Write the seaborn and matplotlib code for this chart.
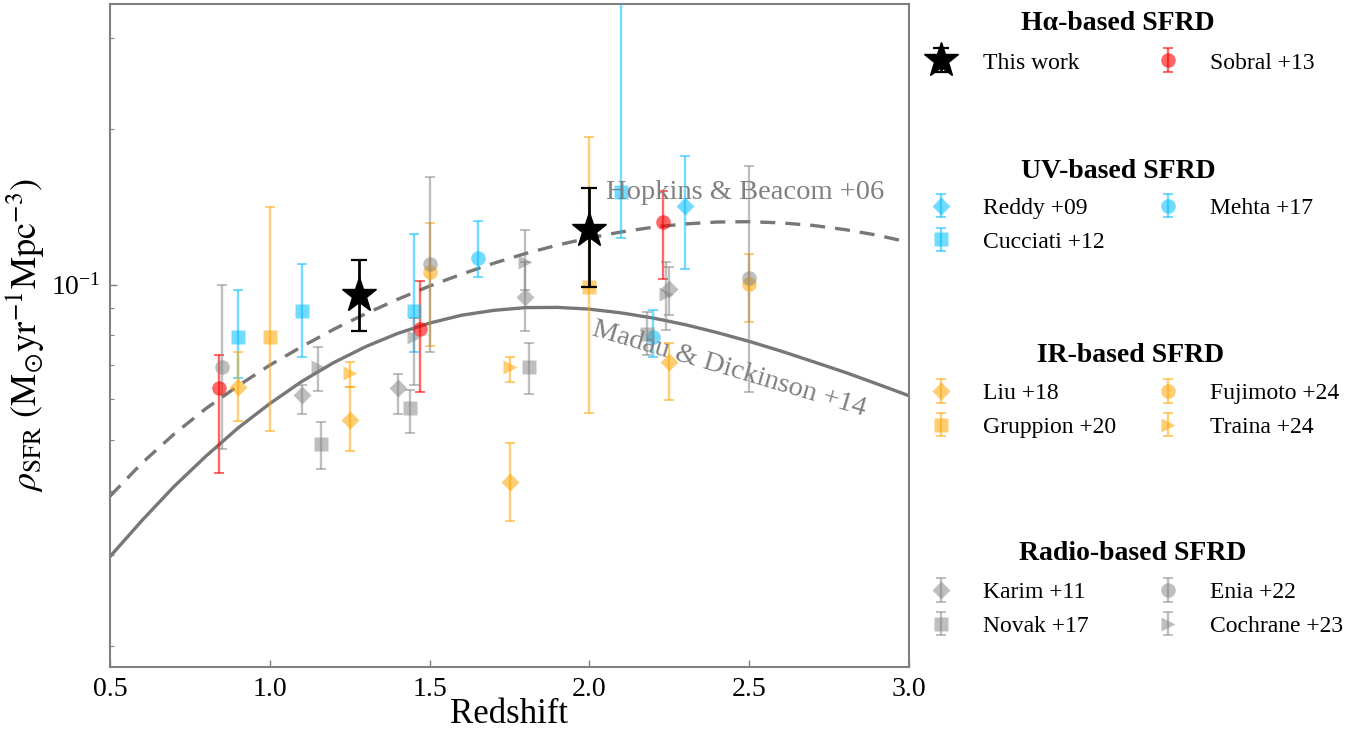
import numpy as np
import matplotlib
matplotlib.use("Agg")
import matplotlib.pyplot as plt
import seaborn as sns
from matplotlib.ticker import LogLocator, NullFormatter, FixedLocator, FormatStrFormatter

sns.set_theme(style="ticks")
plt.rcParams['font.family'] = ['Liberation Serif', 'DejaVu Serif']
plt.rcParams['mathtext.fontset'] = 'stix'
plt.rcParams['text.color'] = 'black'
plt.rcParams['axes.labelcolor'] = 'black'

# ---------------- data ----------------
model_z = [0.5, 0.6, 0.7, 0.8, 0.9, 1.0, 1.1, 1.2, 1.3, 1.4, 1.5, 1.6, 1.7,
           1.8, 1.9, 2.0, 2.1, 2.2, 2.3, 2.4, 2.5, 2.6, 2.7, 2.8, 2.9, 3.0]
md14 = [0.0298, 0.0350, 0.0407, 0.0466, 0.0528, 0.0589, 0.0650, 0.0707, 0.0759,
        0.0805, 0.0843, 0.0873, 0.0892, 0.0903, 0.0904, 0.0897, 0.0882, 0.0862,
        0.0837, 0.0808, 0.0777, 0.0744, 0.0710, 0.0677, 0.0643, 0.0610]
hb06 = [0.0390, 0.0452, 0.0514, 0.0576, 0.0637, 0.0699, 0.0759, 0.0820, 0.0879,
        0.0937, 0.0994, 0.1048, 0.1100, 0.1149, 0.1193, 0.1232, 0.1265, 0.1292,
        0.1311, 0.1322, 0.1324, 0.1317, 0.1302, 0.1278, 0.1247, 0.1208]

thiswork_z = [1.28, 2.00]
thiswork_y = [0.0956, 0.1276]
thiswork_lo = [0.0812, 0.0990]
thiswork_hi = [0.1117, 0.1537]

sobral_z = [0.84, 1.47, 2.23]
sobral_y = [0.0632, 0.0820, 0.1321]
sobral_lo = [0.0433, 0.0621, 0.1025]
sobral_hi = [0.0730, 0.1018, 0.1519]

reddy_z = [2.30]
reddy_y = [0.1420]
reddy_lo = [0.1074]
reddy_hi = [0.1777]

cucciati_z = [0.90, 1.10, 1.45, 2.10]
cucciati_y = [0.0794, 0.0891, 0.0891, 0.1510]
cucciati_lo = [0.0661, 0.0726, 0.0742, 0.1230]
cucciati_hi = [0.0975, 0.1095, 0.1254, 0.4500]

mehta_z = [1.65, 2.20]
mehta_y = [0.1125, 0.0794]
mehta_lo = [0.1034, 0.0726]
mehta_hi = [0.1330, 0.0894]

liu_z = [0.90, 1.25, 1.75, 2.25]
liu_y = [0.0634, 0.0548, 0.0416, 0.0710]
liu_lo = [0.0544, 0.0476, 0.0350, 0.0599]
liu_hi = [0.0740, 0.0634, 0.0495, 0.0773]

gruppion_z = [1.00, 2.00]
gruppion_y = [0.0794, 0.0992]
gruppion_lo = [0.0521, 0.0566]
gruppion_hi = [0.1416, 0.1934]

fujimoto_z = [1.50, 2.50]
fujimoto_y = [0.1060, 0.1004]
fujimoto_lo = [0.0761, 0.0848]
fujimoto_hi = [0.1318, 0.1146]

traina_z = [1.25, 1.75]
traina_y = [0.0676, 0.0694]
traina_lo = [0.0634, 0.0648]
traina_hi = [0.0708, 0.0726]

karim_z = [1.10, 1.40, 1.80, 2.25]
karim_y = [0.0611, 0.0632, 0.0948, 0.0980]
karim_lo = [0.0562, 0.0562, 0.0812, 0.0874]
karim_hi = [0.0641, 0.0672, 0.1107, 0.1084]

novak_z = [1.16, 1.44, 1.81, 2.18]
novak_y = [0.0491, 0.0578, 0.0694, 0.0802]
novak_lo = [0.0440, 0.0516, 0.0615, 0.0731]
novak_hi = [0.0542, 0.0626, 0.0773, 0.0887]

enia_z = [0.85, 1.50, 2.50]
enia_y = [0.0694, 0.1099, 0.1029]
enia_lo = [0.0481, 0.0742, 0.0621]
enia_hi = [0.1000, 0.1618, 0.1697]

cochrane_z = [1.15, 1.45, 1.80, 2.24]
cochrane_y = [0.0694, 0.0793, 0.1108, 0.0961]
cochrane_lo = [0.0622, 0.0640, 0.0977, 0.0818]
cochrane_hi = [0.0759, 0.0863, 0.1276, 0.1107]

x_ticks = [0.5, 1.0, 1.5, 2.0, 2.5, 3.0]

# ---------------- figure ----------------
W, H = 1361, 730
fig = plt.figure(figsize=(W / 100, H / 100), dpi=100)
ax = fig.add_axes([110 / W, 1 - 667 / H, (909 - 110) / W, (667 - 4) / H])
ax.set_yscale('log')

curve_col = '#777777'
sns.lineplot(x=model_z, y=md14, ax=ax, color=curve_col, lw=2.4, zorder=2)
sns.lineplot(x=model_z, y=hb06, ax=ax, color=curve_col, lw=2.4, zorder=2,
             linestyle=(0, (4.5, 3)))


def eb(z, y, lo, hi, color, marker, ms=10.5, alpha=0.55, **kw):
    y = np.asarray(y)
    yerr = [y - np.asarray(lo), np.asarray(hi) - y]
    return ax.errorbar(z, y, yerr=yerr, fmt=marker, color=color, ms=ms,
                       mec='none', elinewidth=1.7, capsize=3.4, capthick=1.4,
                       alpha=alpha, zorder=3, **kw)


RED, BLUE, ORANGE, GRAY = 'red', 'deepskyblue', 'orange', 'gray'

h_sobral = eb(sobral_z, sobral_y, sobral_lo, sobral_hi, RED, 'o', alpha=0.6)
h_reddy = eb(reddy_z, reddy_y, reddy_lo, reddy_hi, BLUE, 'D', ms=9.5)
h_cucciati = eb(cucciati_z, cucciati_y, cucciati_lo, cucciati_hi, BLUE, 's', ms=10)
h_mehta = eb(mehta_z, mehta_y, mehta_lo, mehta_hi, BLUE, 'o')
h_liu = eb(liu_z, liu_y, liu_lo, liu_hi, ORANGE, 'D', ms=9.5)
h_gruppion = eb(gruppion_z, gruppion_y, gruppion_lo, gruppion_hi, ORANGE, 's', ms=10)
h_fujimoto = eb(fujimoto_z, fujimoto_y, fujimoto_lo, fujimoto_hi, ORANGE, 'o')
h_traina = eb(traina_z, traina_y, traina_lo, traina_hi, ORANGE, '>')
h_karim = eb(karim_z, karim_y, karim_lo, karim_hi, GRAY, 'D', ms=9.5, alpha=0.5)
h_novak = eb(novak_z, novak_y, novak_lo, novak_hi, GRAY, 's', ms=10, alpha=0.5)
h_enia = eb(enia_z, enia_y, enia_lo, enia_hi, GRAY, 'o', alpha=0.5)
h_cochrane = eb(cochrane_z, cochrane_y, cochrane_lo, cochrane_hi, GRAY, '>', alpha=0.5)

ty = np.asarray(thiswork_y)
h_this = ax.errorbar(thiswork_z, ty,
                     yerr=[ty - np.asarray(thiswork_lo), np.asarray(thiswork_hi) - ty],
                     fmt='*', color='black', ms=26, elinewidth=2.0, capsize=5.5,
                     capthick=1.6, zorder=6)

ax.text(2.052, 0.151, 'Hopkins & Beacom +06', color='#808080', fontsize=20.5,
        ha='left', va='center', zorder=4)
ax.text(2.437, 0.0688, 'Madau & Dickinson +14', color='#808080', fontsize=20.5,
        ha='center', va='center', rotation=-16.5, zorder=4)

ax.set_xlim(0.5, 3.0)
ax.set_ylim(0.01823, 0.349)
ax.xaxis.set_major_locator(FixedLocator(x_ticks))
ax.xaxis.set_major_formatter(FormatStrFormatter('%.1f'))
ax.yaxis.set_major_locator(LogLocator(base=10))
ax.yaxis.set_minor_locator(LogLocator(base=10, subs=np.arange(2, 10)))
ax.yaxis.set_minor_formatter(NullFormatter())

ax.tick_params(which='major', direction='in', length=5, width=1, color='#808080',
               labelsize=20, labelcolor='black', pad=7)
ax.tick_params(which='minor', direction='in', length=3, width=0.8, color='#808080')
for s in ax.spines.values():
    s.set_color('#808080')
    s.set_linewidth(1.5)

ax.set_xlabel('Redshift', fontsize=25, labelpad=-3)
ax.set_ylabel(r'$\rho_{\rm SFR}\ (\rm M_{\odot}yr^{-1}Mpc^{-3})$', fontsize=26)
ax.yaxis.set_label_coords(-0.079, 0.5)

# ---------------- legends ----------------
LEG_FS = 17


def col_legend(handles, labels, marker_x, first_row_y):
    fs_px = LEG_FS * 100 / 72
    x0 = marker_x - fs_px  # handlelength 2 -> centre one font size in
    ytop = first_row_y - 8.5
    fig.legend(handles, labels, loc='upper left', bbox_to_anchor=(x0 / W, 1 - ytop / H),
               frameon=False, fontsize=LEG_FS, handlelength=2, handletextpad=0.8,
               labelspacing=0.52, borderpad=0, borderaxespad=0)


col_legend([h_this], ['This work'], 941, 60.5)
col_legend([h_sobral], ['Sobral +13'], 1168, 60.5)
col_legend([h_reddy, h_cucciati], ['Reddy +09', 'Cucciati +12'], 941, 205.8)
col_legend([h_mehta], ['Mehta +17'], 1168, 205.8)
col_legend([h_liu, h_gruppion], ['Liu +18', 'Gruppion +20'], 941, 391)
col_legend([h_fujimoto, h_traina], ['Fujimoto +24', 'Traina +24'], 1168, 391)
col_legend([h_karim, h_novak], ['Karim +11', 'Novak +17'], 941, 590)
col_legend([h_enia, h_cochrane], ['Enia +22', 'Cochrane +23'], 1168, 590)

for title, xc, yc in [('Hα-based SFRD', 1118, 24), ('UV-based SFRD', 1118, 171),
                      ('IR-based SFRD', 1131, 356), ('Radio-based SFRD', 1133, 554)]:
    fig.text(xc / W, 1 - yc / H, title, fontsize=20, fontweight='bold',
             ha='center', va='center')

fig.savefig('out.png', dpi=100)
